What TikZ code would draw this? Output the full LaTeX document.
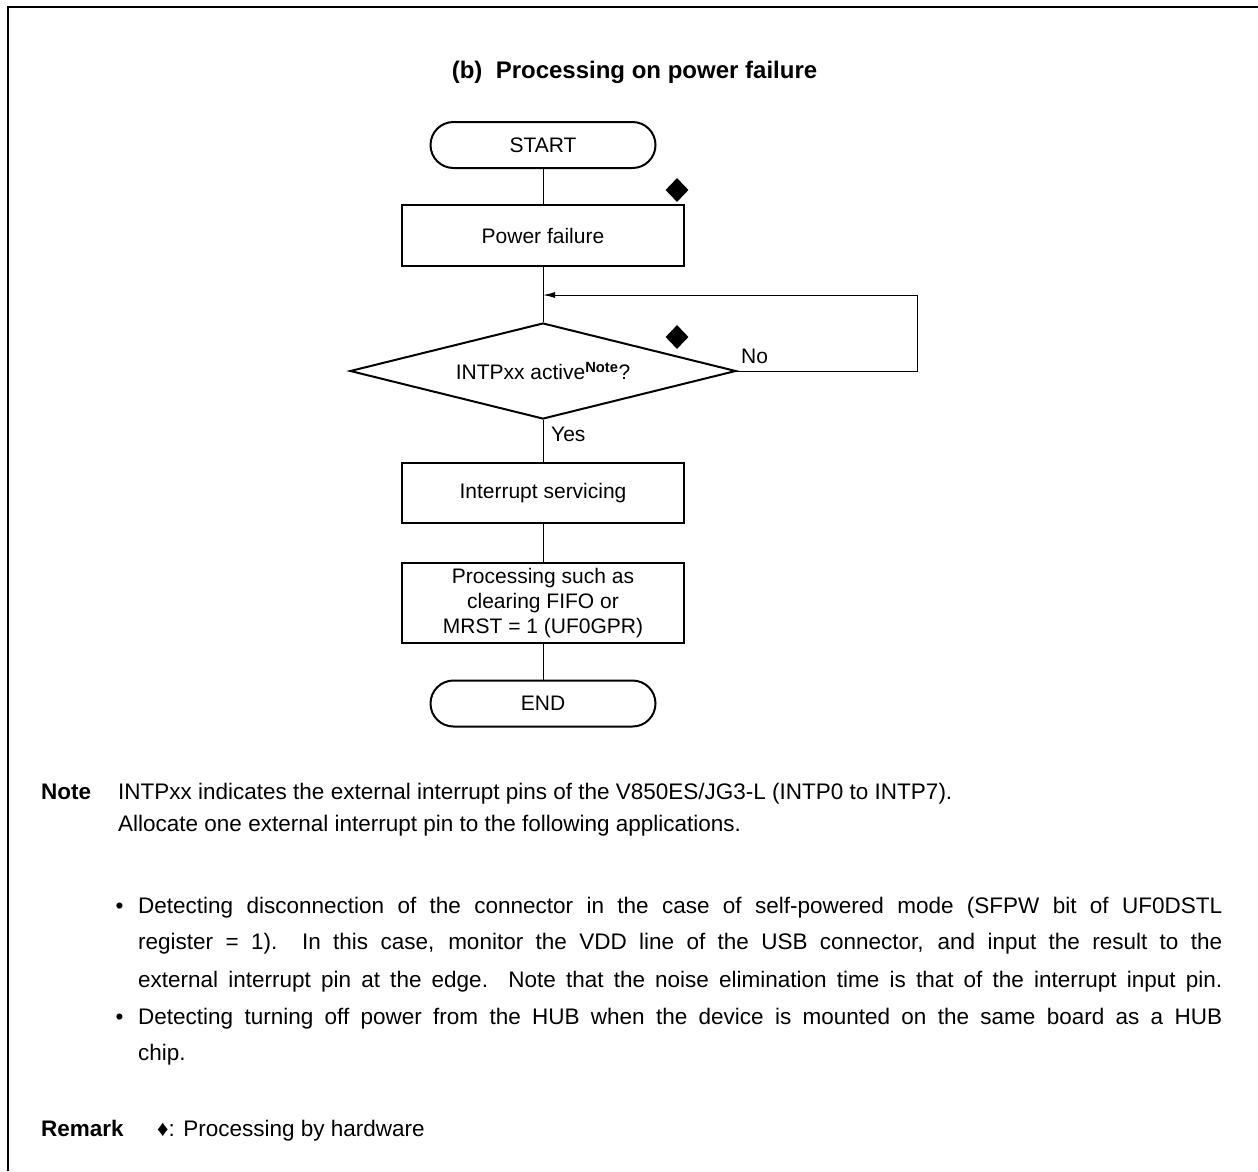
\documentclass[tikz,border=0pt]{standalone}
\usepackage{fontspec}
\setmainfont{Liberation Sans}
\usetikzlibrary{shapes.geometric,arrows.meta}
\begin{document}
\begin{tikzpicture}[x=1pt,y=-1pt,
  fc/.style={font=\fontsize{21}{25}\selectfont, text=black},
  term/.style={fc, draw, line width=2pt, rounded corners=23pt, minimum width=225pt, minimum height=46pt, inner sep=0pt},
  procbox/.style={fc, draw, line width=2pt, minimum width=282pt, inner sep=0pt, align=center},
  decis/.style={fc, draw, diamond, line width=2pt, minimum width=386pt, minimum height=96pt, inner sep=0pt, aspect=4},
  conn/.style={line width=1pt},
  hwmark/.style={fill=black, diamond, minimum width=23pt, minimum height=24pt, inner sep=0pt},
  lbl/.style={fc, anchor=base west, inner sep=0pt},
  notetxt/.style={font=\fontsize{22.5}{36}\selectfont, anchor=base west, inner sep=0pt},
  notehead/.style={font=\fontsize{22.5}{36}\selectfont\bfseries, anchor=base west, inner sep=0pt}
]
\useasboundingbox (0,0) rectangle (1258,1171);
\fill[white] (0,0) rectangle (1258,1171);
% frame
\draw[line width=2pt] (7.5,1171) -- (7.5,6.5) -- (1258,6.5);

% title
\node[font=\fontsize{24}{28}\selectfont\bfseries, anchor=base, inner sep=0pt] (title) at (634.5,78) {(b)\ \ Processing on power failure};

% flowchart
\node[term] (start) at (543,145) {START};
\node[procbox, minimum height=61pt] (pf) at (543,235.5) {Power failure};
\node[decis] (dec) at (543,371) {INTPxx active\textsuperscript{\textbf{Note}}?};
\node[procbox, minimum height=60pt] (isr) at (543,493) {Interrupt servicing};
\node[procbox, minimum height=80pt] (proc) at (543,603) {Processing such as\\clearing FIFO or\\MRST = 1 (UF0GPR)};
\node[term] (end) at (543,703.5) {END};

\node[hwmark] (hw1) at (677,190) {};
\node[hwmark] (hw2) at (677,337) {};

\coordinate (loopR) at (917,295);
\draw[conn] (start) -- (pf);
\draw[conn] (pf) -- (dec);
\draw[conn] (dec) -- (isr);
\draw[conn] (isr) -- (proc);
\draw[conn] (proc) -- (end);
\draw[conn, -{Latex[length=12pt,width=6pt]}] (dec.east) -- (dec.east -| loopR) -- (loopR) -- (pf.south |- loopR);

\node[lbl] (no) at (741,363) {No};
\node[lbl] (yes) at (551,441) {Yes};

% notes
\node[notehead] (notehd) at (41,799) {Note};
\node[notetxt] (n1) at (118,799) {INTPxx indicates the external interrupt pins of the V850ES/JG3-L (INTP0 to INTP7).};
\node[notetxt] (n2) at (118,831) {Allocate one external interrupt pin to the following applications.};

\node[notetxt] (bu1) at (115.5,913) {•};
\node[notetxt] (l1) at (138,913) {\makebox[1084pt][s]{Detecting disconnection of the connector in the case of self-powered mode (SFPW bit of UF0DSTL}};
\node[notetxt] (l2) at (138,949) {\makebox[1084pt][s]{register = 1).\ \ In this case, monitor the VDD line of the USB connector, and input the result to the}};
\node[notetxt] (l3) at (138,987) {\makebox[1084pt][s]{external interrupt pin at the edge.\ \ Note that the noise elimination time is that of the interrupt input pin.}};
\node[notetxt] (bu2) at (115.5,1024) {•};
\node[notetxt] (l4) at (138,1024) {\makebox[1084pt][s]{Detecting turning off power from the HUB when the device is mounted on the same board as a HUB}};
\node[notetxt] (l5) at (138,1060) {chip.};

\node[notehead] (remhd) at (41,1136) {Remark};
\node[notetxt] (rem) at (157,1136) {♦: Processing by hardware};
\end{tikzpicture}
\end{document}
